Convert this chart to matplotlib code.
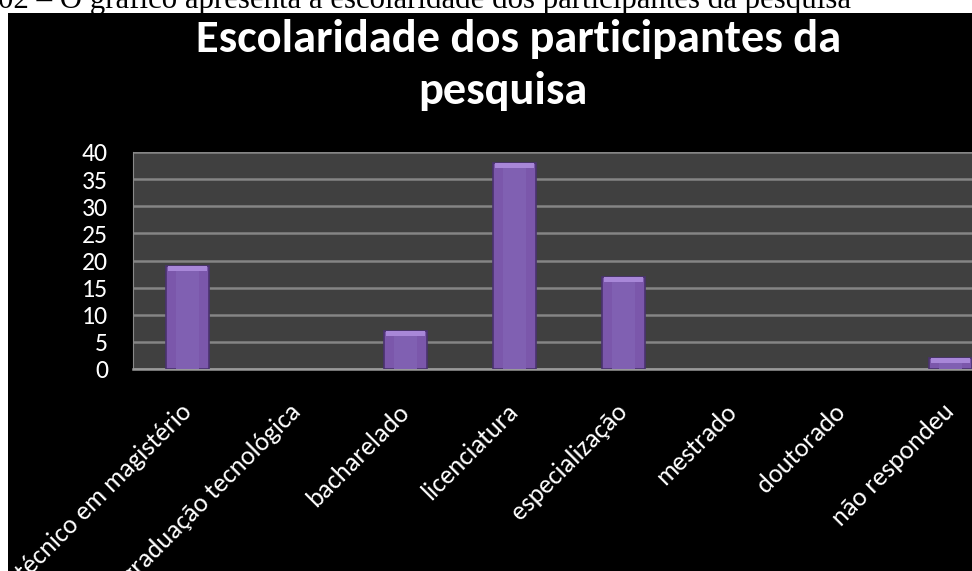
import matplotlib
matplotlib.use("Agg")
import matplotlib.pyplot as plt
from matplotlib.patches import Rectangle
import numpy as np

categories = ["técnico em magistério", "graduação tecnológica", "bacharelado",
              "licenciatura", "especialização", "mestrado", "doutorado", "não respondeu"]
values = [19, 0, 7, 38, 17, 0, 0, 2]
yticks = [0, 5, 10, 15, 20, 25, 30, 35, 40]
title_lines = ["Escolaridade dos participantes da", "pesquisa"]
caption = "Gráfico 02 – O gráfico apresenta a escolaridade dos participantes da pesquisa"

W, H = 972, 571
fig = plt.figure(figsize=(W / 100, H / 100), dpi=100, facecolor="white")

# black chart background (cropped screenshot)
fig.patches.append(Rectangle((8 / W, 0), 1 - 8 / W, (H - 13) / H, transform=fig.transFigure,
                             facecolor="black", edgecolor="none", zorder=-5))

# caption (top cut off)
fig.text(851 / W, 1 - 8 / H, caption, ha="right", va="baseline", fontsize=22.2,
         family=["Liberation Serif"], color="black", zorder=-1)

lab_font = ["Carlito", "Open Sans", "DejaVu Sans"]
fig.text(519 / W, 1 - 52 / H, title_lines[0], ha="center", va="baseline", fontsize=33.5,
         family=lab_font, fontweight="bold", color="white")
fig.text(503 / W, 1 - 104 / H, title_lines[1], ha="center", va="baseline", fontsize=33.5,
         family=lab_font, fontweight="bold", color="white")

ax = fig.add_axes([133 / W, (H - 369) / H, (1005 - 133) / W, (369 - 152) / H])
ax.set_facecolor("#404040")
x = np.arange(len(categories))
vals = np.array(values, dtype=float)
bw = 0.39
edges = ["#4a3270" if v > 0 else "none" for v in vals]
ax.bar(x, vals, width=bw, color="#7b57ab", edgecolor=edges, linewidth=1.2, zorder=3)
# lighter inner column (soft gradient look)
ax.bar(x, vals, width=bw * 0.55, color="#8060b2", edgecolor="none", zorder=3.5)
# top bevel highlight
bev = np.minimum(vals, 0.9)
ax.bar(x, bev, bottom=vals - bev, width=bw * 0.9, color="#a887d8", edgecolor="none", zorder=4)

ax.set_xlim(-0.5, len(categories) - 0.5)
ax.set_ylim(0, 40)
ax.set_yticks(yticks)
ax.set_yticklabels([str(v) for v in yticks], color="white", fontsize=18.5, family=lab_font)
ax.set_xticks(x)
ax.set_xticklabels(categories, rotation=45, ha="right", va="center", rotation_mode="anchor",
                   color="white", fontsize=19, family=lab_font)
ax.tick_params(axis="y", length=0, pad=18)
ax.tick_params(axis="x", length=0, pad=28)
ax.grid(axis="y", color="#858585", linewidth=1.8, zorder=1)
ax.set_axisbelow(True)
for s in ["top", "right"]:
    ax.spines[s].set_visible(False)
ax.spines["left"].set_color("#8a8a8a")
ax.spines["bottom"].set_color("#9a9a9a")
ax.spines["bottom"].set_linewidth(1.8)

fig.savefig("out.png", dpi=100, facecolor="white")
